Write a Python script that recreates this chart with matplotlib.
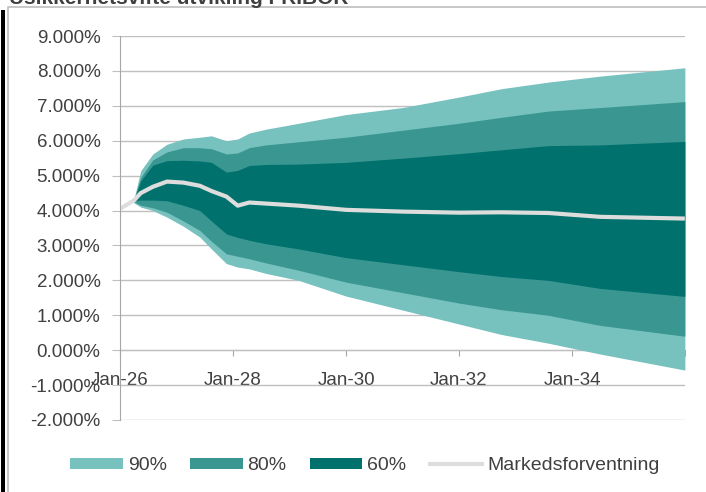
import matplotlib
matplotlib.use("Agg")
import matplotlib.pyplot as plt
import matplotlib.dates as mdates
from matplotlib.patches import Patch, Rectangle
from matplotlib.lines import Line2D
import numpy as np
import pandas as pd

plt.rcParams['font.family'] = ['Liberation Sans', 'DejaVu Sans']

title = "Usikkerhetsvifte utvikling FRIBOR"

line_dates = ["2026-01-01", "2026-04-01", "2026-05-15", "2026-08-01", "2026-11-01",
              "2027-02-15", "2027-06-01", "2027-08-15", "2027-11-20", "2028-02-01",
              "2028-04-15", "2028-08-01", "2029-03-01", "2030-01-01", "2031-01-01",
              "2032-01-01", "2032-10-01", "2033-08-01", "2034-07-01", "2035-12-31"]
market = [4.05, 4.29, 4.50, 4.68, 4.83, 4.80, 4.71, 4.56, 4.40, 4.14,
          4.23, 4.20, 4.14, 4.02, 3.97, 3.94, 3.95, 3.93, 3.82, 3.77]

fan_dates = line_dates[1:]
upper90 = [4.33, 5.14, 5.62, 5.90, 6.05, 6.10, 6.14, 6.00, 6.05, 6.22, 6.33, 6.50,
           6.75, 6.95, 7.25, 7.49, 7.68, 7.85, 8.09]
upper80 = [4.32, 4.95, 5.45, 5.68, 5.80, 5.80, 5.77, 5.62, 5.65, 5.80, 5.88, 5.97,
           6.10, 6.30, 6.50, 6.67, 6.85, 6.95, 7.12]
upper60 = [4.31, 4.85, 5.30, 5.43, 5.44, 5.42, 5.38, 5.10, 5.15, 5.29, 5.32, 5.33,
           5.38, 5.50, 5.63, 5.74, 5.86, 5.88, 5.98]
lower60 = [4.29, 4.30, 4.30, 4.28, 4.15, 4.00, 3.70, 3.33, 3.23, 3.15, 3.05, 2.90,
           2.65, 2.45, 2.25, 2.11, 2.00, 1.77, 1.54]
lower80 = [4.25, 4.15, 4.08, 3.95, 3.70, 3.43, 3.12, 2.76, 2.69, 2.62, 2.50, 2.29,
           1.95, 1.65, 1.35, 1.16, 1.00, 0.71, 0.40]
lower90 = [4.22, 4.10, 4.00, 3.81, 3.55, 3.24, 2.90, 2.48, 2.38, 2.33, 2.20, 2.00,
           1.55, 1.15, 0.75, 0.45, 0.20, -0.11, -0.57]

band_labels = ["90%", "80%", "60%"]
line_label = "Markedsforventning"
tick_years = [2026, 2028, 2030, 2032, 2034, 2036]
y_ticks = list(range(-2, 10))

c90, c80, c60 = "#77C1BE", "#3A9691", "#00716C"
cline = "#DDDDDD"
grid_c = "#BFBFBF"
text_c = "#404040"

ld = pd.to_datetime(line_dates)
fd = pd.to_datetime(fan_dates)

fig = plt.figure(figsize=(7.06, 4.92), dpi=100)
W, H = 706, 492

# frame decorations
fig.patches.append(Rectangle((1 / W, 0), 4 / W, (H - 10) / H, transform=fig.transFigure,
                             facecolor="black", edgecolor="none"))
fig.patches.append(Rectangle((7.5 / W, -0.01), 1.2, (H - 6.5) / H + 0.01, transform=fig.transFigure,
                             facecolor="none", edgecolor="#BFBFBF", linewidth=1.2))
fig.text(9 / W, 1 - 4 / H, title, fontsize=15, fontweight="bold", color=text_c,
         ha="left", va="baseline")

ax = fig.add_axes([120 / W, 1 - 420 / H, 565 / W, 384 / H])

ax.fill_between(fd, lower90, upper90, color=c90, linewidth=0)
ax.fill_between(fd, lower80, upper80, color=c80, linewidth=0)
ax.fill_between(fd, lower60, upper60, color=c60, linewidth=0)
ax.plot(ld, market, color=cline, linewidth=3, solid_capstyle="butt")

ax.set_ylim(-2, 9)
ax.set_xlim(pd.Timestamp("2026-01-01"), pd.Timestamp("2036-01-01"))
ax.set_yticks(y_ticks)
ax.set_yticklabels([f"{v:.3f}%" for v in y_ticks])
ax.yaxis.grid(True, color=grid_c, linewidth=1)
ax.set_axisbelow(True)

xt = [pd.Timestamp(f"{y}-01-01") for y in tick_years]
ax.set_xticks(xt)
ax.set_xticklabels([f"Jan-{str(y)[2:]}" if y != tick_years[-1] else "" for y in tick_years])

for s in ["top", "right"]:
    ax.spines[s].set_visible(False)
ax.spines["left"].set_color("#A6A6A6")
ax.spines["bottom"].set_color("#A6A6A6")
ax.spines["bottom"].set_position(("data", 0))
ax.spines["bottom"].set_zorder(0.5)

ax.tick_params(axis="y", length=6, color=grid_c, labelsize=13.5, labelcolor=text_c, pad=8)
ax.tick_params(axis="x", length=4, color="#A6A6A6", labelsize=13.5, labelcolor=text_c, pad=12)

handles = [Patch(facecolor=c90, edgecolor="none"),
           Patch(facecolor=c80, edgecolor="none"),
           Patch(facecolor=c60, edgecolor="none"),
           Line2D([0], [0], color=cline, linewidth=3)]
leg = fig.legend(handles, band_labels + [line_label], loc="center",
                 bbox_to_anchor=(365 / W, 1 - 466 / H), ncol=4, frameon=False,
                 fontsize=14, handlelength=2.7, handleheight=0.55, handletextpad=0.25,
                 columnspacing=1.2, labelcolor=text_c)

fig.savefig("out.png", dpi=100)
